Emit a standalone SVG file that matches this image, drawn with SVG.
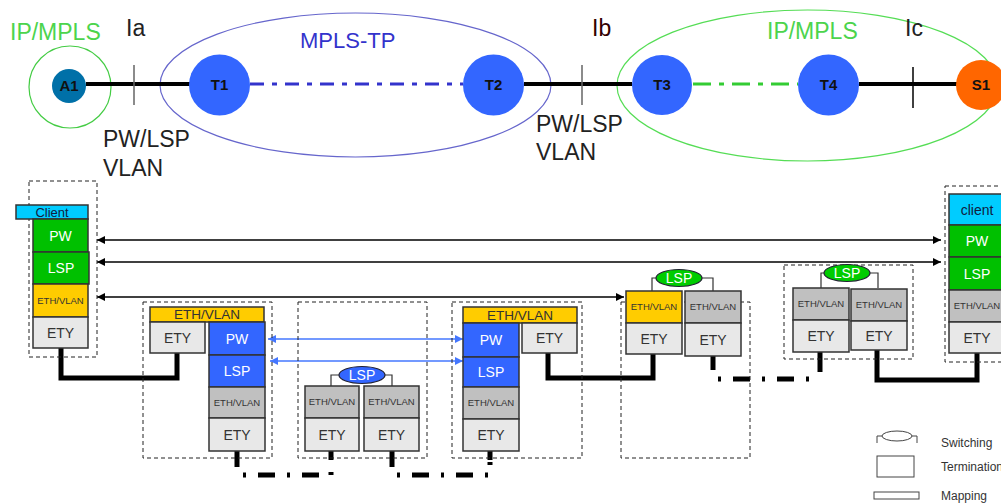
<svg xmlns="http://www.w3.org/2000/svg" width="1001" height="503" viewBox="0 0 1001 503">
<style>
text{font-family:"Liberation Sans",Arial,sans-serif;fill:#222}
.big{font-size:23px}
.nd{font-size:15px;font-weight:bold;text-anchor:middle;fill:#111}
.c{stroke:#333;stroke-width:1.5}
.t{text-anchor:middle;font-size:14px;fill:#333}
.w{fill:#fff}
.s{font-size:9.5px}
.m{font-size:13.5px}
.db{fill:none;stroke:#222;stroke-width:1;stroke-dasharray:4 3}
.yl{fill:#FFCC00}.gy{fill:#C0C0C0}.et{fill:#E8E8E8}.gr{fill:#00C000}.bl{fill:#3366FF}.cy{fill:#00CCFF}
.br{fill:none;stroke:#333;stroke-width:1.2}
.lk{fill:none;stroke:#000;stroke-width:5}
.dd{fill:none;stroke:#000;stroke-width:5;stroke-dasharray:3 12 17 12}
.ar{fill:none;stroke:#000;stroke-width:1.5;marker-start:url(#ah);marker-end:url(#ah)}
.ab{fill:none;stroke:#4477FF;stroke-width:1.3;marker-start:url(#ahb);marker-end:url(#ahb)}
.lg{font-size:12px;fill:#333}
</style>
<defs>
<marker id="ah" viewBox="0 0 10 10" refX="10" refY="5" markerWidth="9" markerHeight="8" markerUnits="userSpaceOnUse" orient="auto-start-reverse"><path d="M0,0L10,5L0,10z" fill="#000"/></marker>
<marker id="ahb" viewBox="0 0 10 10" refX="10" refY="5" markerWidth="9" markerHeight="8" markerUnits="userSpaceOnUse" orient="auto-start-reverse"><path d="M0,0L10,5L0,10z" fill="#4477FF"/></marker>
</defs>

<!-- domains -->
<g id="domains">
<circle cx="70" cy="87" r="41" fill="none" stroke="#44CC44" stroke-width="1.2"/>
<ellipse cx="355.5" cy="85" rx="195.5" ry="72" fill="none" stroke="#6666CC" stroke-width="1.2"/>
<ellipse cx="807.5" cy="85.5" rx="190.5" ry="75.5" fill="none" stroke="#55DD55" stroke-width="1.2"/>
<text class="big" x="10" y="40" style="fill:#4CD44C">IP/MPLS</text>
<text class="big" x="300" y="48" style="fill:#3333CC;font-size:22px">MPLS-TP</text>
<text class="big" x="767" y="39" style="fill:#4CD44C">IP/MPLS</text>
<text class="big" x="126" y="36">Ia</text>
<text class="big" x="592" y="36" style="fill:#300">Ib</text>
<text class="big" x="905" y="36">Ic</text>
<text class="big" x="103" y="147">PW/LSP</text>
<text class="big" x="103" y="176">VLAN</text>
<text class="big" x="536" y="132">PW/LSP</text>
<text class="big" x="536" y="160">VLAN</text>
</g>

<g id="connectors">
<path d="M86,84H190M524,84H632M859,84H957" fill="none" stroke="#000" stroke-width="4"/>
<path d="M250,84H463" fill="none" stroke="#3333CC" stroke-width="3" stroke-dasharray="14 8 5 8"/>
<path d="M693,84H798" fill="none" stroke="#33CC33" stroke-width="3" stroke-dasharray="18 8 5 8"/>
<path d="M134,65V105M582,65V105" stroke="#666" stroke-width="1.5"/>
<path d="M913,67V108" stroke="#000" stroke-width="1.5"/>
<path class="ar" d="M97,240H941"/>
<path class="ar" d="M97,262H941"/>
<path class="ar" d="M97,297H624"/>
<path class="ab" d="M268,339H463"/>
<path class="ab" d="M270,361H463"/>
<path class="lk" d="M61,348V378H177V353"/>
<path class="lk" d="M548,353V378H653V354"/>
<path class="lk" d="M877,350V380H977V353"/>
<path class="lk" d="M237,451V467M392,451V467M490,451V460M713,356V370M820,352V372"/>
<path class="dd" d="M243,475H331V451"/>
<path class="dd" d="M397,475H490V462"/>
<path class="dd" d="M718,379H817"/>
</g>

<g id="A1"><circle cx="69" cy="86" r="17" fill="#0070A8"/><text class="nd" x="69" y="91">A1</text></g>
<g id="T1"><circle cx="219.5" cy="85" r="30.5" fill="#3366FF"/><text class="nd" x="219.5" y="90">T1</text></g>
<g id="T2"><circle cx="493.5" cy="85" r="30.5" fill="#3366FF"/><text class="nd" x="493.5" y="90">T2</text></g>
<g id="T3"><circle cx="662" cy="85" r="30" fill="#3366FF"/><text class="nd" x="662" y="90">T3</text></g>
<g id="T4"><circle cx="828.5" cy="85" r="30.5" fill="#3366FF"/><text class="nd" x="828.5" y="90">T4</text></g>
<g id="S1"><circle cx="981" cy="85" r="25" fill="#FF6600"/><text class="nd" x="981" y="90">S1</text></g>

<g id="stack-A1">
<rect class="db" x="29" y="181" width="68" height="176"/>
<rect class="c cy" x="16" y="205" width="72" height="14"/><text class="t" x="52" y="216.5" style="font-size:13px;fill:#102040">Client</text>
<rect class="c gr" x="33" y="219" width="55" height="33"/><text class="t w" x="60.5" y="240.5">PW</text>
<rect class="c gr" x="33" y="252" width="56" height="32"/><text class="t w" x="61" y="273">LSP</text>
<rect class="c yl" x="33" y="284" width="55" height="33"/><text class="t s" x="60.5" y="304">ETH/VLAN</text>
<rect class="c et" x="33" y="317" width="55" height="31"/><text class="t" x="60.5" y="337.5">ETY</text>
</g>

<g id="stack-T1">
<rect class="db" x="143" y="302" width="129" height="156"/>
<rect class="c yl" x="150" y="307" width="114" height="15"/><text class="t m" x="207" y="319">ETH/VLAN</text>
<rect class="c et" x="150" y="322" width="55" height="31"/><text class="t" x="177.5" y="342.5">ETY</text>
<rect class="c bl" x="209" y="322" width="56" height="33"/><text class="t w" x="237" y="343.5">PW</text>
<rect class="c bl" x="209" y="355" width="56" height="32"/><text class="t w" x="237" y="376">LSP</text>
<rect class="c gy" x="209" y="387" width="56" height="31"/><text class="t s" x="237" y="405.5">ETH/VLAN</text>
<rect class="c et" x="209" y="418" width="56" height="33"/><text class="t" x="237" y="439.5">ETY</text>
</g>

<g id="stack-mid1">
<rect class="db" x="298" y="302" width="129" height="156"/>
<path class="br" d="M331,386V375H340M384,375H392V386"/>
<ellipse cx="362" cy="375" rx="23" ry="8.5" fill="#3366FF" stroke="#223" stroke-width="1.2"/><text class="t w" x="362" y="380">LSP</text>
<rect class="c gy" x="305" y="386" width="54" height="32"/><text class="t s" x="332" y="405">ETH/VLAN</text>
<rect class="c et" x="305" y="418" width="54" height="33"/><text class="t" x="332" y="439.5">ETY</text>
<rect class="c gy" x="364" y="386" width="55" height="32"/><text class="t s" x="391.5" y="405">ETH/VLAN</text>
<rect class="c et" x="364" y="418" width="55" height="33"/><text class="t" x="391.5" y="439.5">ETY</text>
</g>

<g id="stack-T2">
<rect class="db" x="452" y="302" width="130" height="156"/>
<rect class="c yl" x="463" y="307" width="114" height="16"/><text class="t m" x="520" y="319.5">ETH/VLAN</text>
<rect class="c bl" x="463" y="323" width="56" height="34"/><text class="t w" x="491" y="345">PW</text>
<rect class="c bl" x="463" y="357" width="56" height="30"/><text class="t w" x="491" y="377">LSP</text>
<rect class="c gy" x="463" y="387" width="56" height="32"/><text class="t s" x="491" y="406">ETH/VLAN</text>
<rect class="c et" x="463" y="419" width="56" height="32"/><text class="t" x="491" y="440">ETY</text>
<rect class="c et" x="522" y="323" width="55" height="30"/><text class="t" x="549.5" y="343">ETY</text>
</g>

<g id="stack-T3">
<rect class="db" x="621" y="302" width="129" height="156"/>
<path class="br" d="M652,291V278H657M701,278H713V291"/>
<ellipse cx="679" cy="278" rx="23" ry="8.5" fill="#00CC00" stroke="#223" stroke-width="1.2"/><text class="t w" x="679" y="283">LSP</text>
<rect class="c yl" x="626" y="291" width="56" height="32"/><text class="t s" x="654" y="310">ETH/VLAN</text>
<rect class="c et" x="626" y="323" width="56" height="31"/><text class="t" x="654" y="343.5">ETY</text>
<rect class="c gy" x="685" y="291" width="56" height="32"/><text class="t s" x="713" y="310">ETH/VLAN</text>
<rect class="c et" x="685" y="323" width="56" height="33"/><text class="t" x="713" y="344.5">ETY</text>
</g>

<g id="stack-T4">
<rect class="db" x="784" y="265" width="129" height="94"/>
<path class="br" d="M821,288V273H825M869,273H878V288"/>
<ellipse cx="847" cy="273" rx="23" ry="8.5" fill="#00CC00" stroke="#223" stroke-width="1.2"/><text class="t w" x="847" y="278">LSP</text>
<rect class="c gy" x="793" y="288" width="56" height="32"/><text class="t s" x="821" y="307">ETH/VLAN</text>
<rect class="c et" x="793" y="320" width="56" height="32"/><text class="t" x="821" y="341">ETY</text>
<rect class="c gy" x="851" y="289" width="56" height="32"/><text class="t s" x="879" y="308">ETH/VLAN</text>
<rect class="c et" x="851" y="321" width="56" height="29"/><text class="t" x="879" y="340.5">ETY</text>
</g>

<g id="stack-S1">
<rect class="db" x="945" y="186" width="70" height="176"/>
<rect class="c cy" x="949" y="194" width="56" height="31"/><text class="t" x="977" y="214.5" style="fill:#102040">client</text>
<rect class="c gr" x="949" y="225" width="56" height="32"/><text class="t w" x="977" y="246">PW</text>
<rect class="c gr" x="949" y="257" width="56" height="33"/><text class="t w" x="977" y="278.5">LSP</text>
<rect class="c gy" x="949" y="290" width="56" height="32"/><text class="t s" x="977" y="309">ETH/VLAN</text>
<rect class="c et" x="949" y="322" width="56" height="31"/><text class="t" x="977" y="342.5">ETY</text>
</g>

<g id="legend">
<path d="M877,443V436H882M912,436H917V443" fill="none" stroke="#444" stroke-width="1"/>
<ellipse cx="897" cy="436" rx="15" ry="5" fill="#fff" stroke="#444" stroke-width="1"/>
<text class="lg" x="941" y="447">Switching</text>
<rect x="877" y="456" width="37" height="21" fill="#fff" stroke="#444" stroke-width="1"/>
<text class="lg" x="941" y="471">Termination</text>
<rect x="874" y="492" width="45" height="7" fill="#fff" stroke="#444" stroke-width="1"/>
<text class="lg" x="941" y="500">Mapping</text>
</g>
</svg>
